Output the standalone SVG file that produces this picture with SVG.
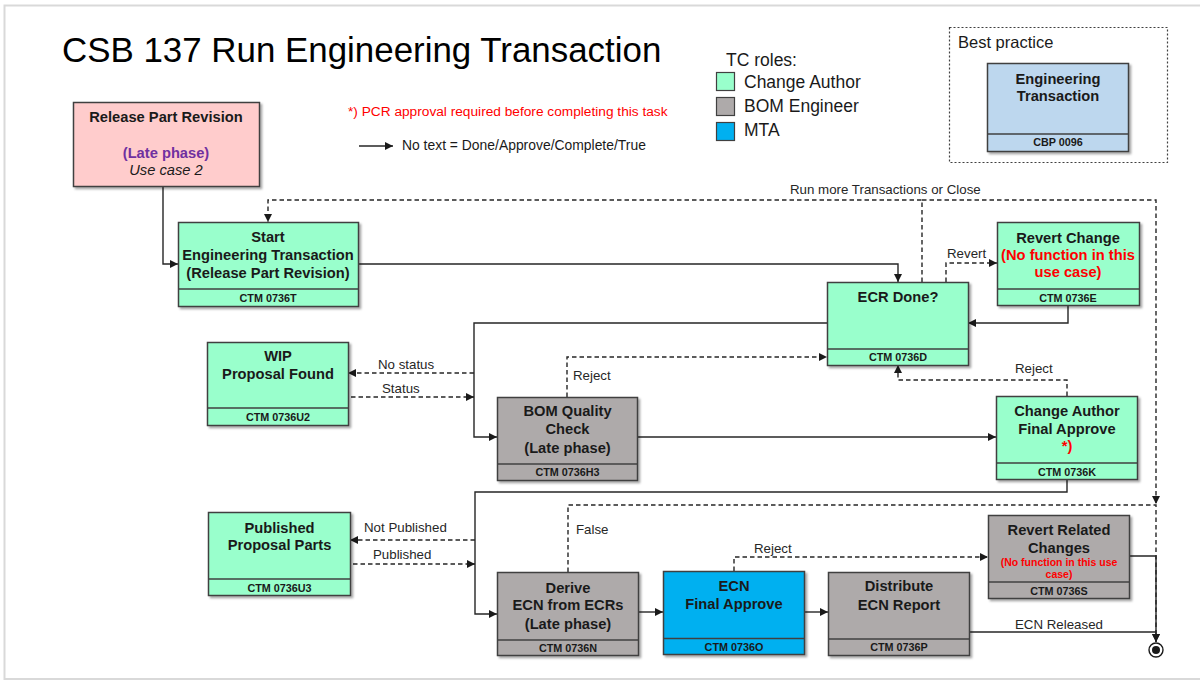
<svg xmlns="http://www.w3.org/2000/svg" width="1200" height="680" viewBox="0 0 1200 680">
<style>
text{font-family:"Liberation Sans",Arial,sans-serif;}
.box{stroke:#404040;stroke-width:1.5;filter:url(#sh);}
.div{stroke:#404040;stroke-width:1.3;fill:none;}
.g{fill:#99ffcc;}
.gr{fill:#aeaaaa;}
.bl{fill:#00b0f0;}
.b{font-weight:bold;font-size:14.7px;fill:#1a1a1a;text-anchor:middle;}
.f{font-weight:bold;font-size:10.8px;fill:#1a1a1a;text-anchor:middle;}
.red{fill:#ff0000;}
.l{font-size:13.3px;fill:#262626;}
.c{fill:none;stroke:#262626;stroke-width:1.4;}
.d{fill:none;stroke:#262626;stroke-width:1.4;stroke-dasharray:4.5 3;}
.leg{font-size:17.5px;fill:#1a1a1a;}
</style>
<defs>
<marker id="ah" viewBox="0 0 10 10" refX="10" refY="5" markerWidth="8" markerHeight="8" markerUnits="userSpaceOnUse" orient="auto">
<path d="M0,0 L10,5 L0,10 z" fill="#1a1a1a"/>
</marker>
<filter id="sh" x="-10%" y="-10%" width="130%" height="130%">
<feDropShadow dx="2" dy="2" stdDeviation="1.2" flood-color="#000" flood-opacity="0.35"/>
</filter>
</defs>
<rect width="1200" height="680" fill="#ffffff"/>
<g id="frame" stroke="#d9d9d9" stroke-width="2" fill="none">
<path d="M4.5,680 V5.5 H1200"/>
<path d="M4.5,679 H1200"/>
</g>
<text x="62" y="62" font-size="34.9" fill="#000">CSB 137 Run Engineering Transaction</text>
<text x="348" y="116" font-size="13.7" fill="#ff0000">*) PCR approval required before completing this task</text>
<path d="M359,146 H393" class="c" marker-end="url(#ah)"/>
<text x="402" y="150" font-size="13.9" fill="#1a1a1a">No text = Done/Approve/Complete/True</text>
<g id="legend">
<text x="726" y="66" class="leg">TC roles:</text>
<rect x="716.5" y="72.5" width="18" height="18" fill="#99ffcc" stroke="#404040" stroke-width="1.2"/>
<text x="744" y="88" class="leg">Change Author</text>
<rect x="716.5" y="97.5" width="18" height="18" fill="#aeaaaa" stroke="#404040" stroke-width="1.2"/>
<text x="744" y="112" class="leg">BOM Engineer</text>
<rect x="716.5" y="122.5" width="18" height="18" fill="#00b0f0" stroke="#404040" stroke-width="1.2"/>
<text x="744" y="136" class="leg">MTA</text>
</g>
<g id="best-practice">
<rect x="949.5" y="27.5" width="218" height="135" fill="none" stroke="#404040" stroke-width="1.2" stroke-dasharray="2 2"/>
<text x="958" y="48" font-size="16.5" fill="#1a1a1a">Best practice</text>
<rect x="987.5" y="63.5" width="141" height="88" fill="#bdd7ee" class="box"/>
<line x1="987.5" y1="134" x2="1128.5" y2="134" class="div"/>
<text x="1058" y="84" class="b">Engineering</text>
<text x="1058" y="101" class="b">Transaction</text>
<text x="1058" y="146" class="f">CBP 0096</text>
</g>
<g id="connectors">
<path d="M163,187 V264 H178" class="c" marker-end="url(#ah)"/>
<path d="M358,264 H898 V282" class="c" marker-end="url(#ah)"/>
<path d="M922,282 V200 H268 V222" class="d" marker-end="url(#ah)"/>
<path d="M922,200 H1156 V504" class="d" marker-end="url(#ah)"/>
<path d="M946,282 V263 H997" class="d" marker-end="url(#ah)"/>
<path d="M1068,305 V323 H968" class="c" marker-end="url(#ah)"/>
<path d="M827,323 H474 V437 H497" class="c" marker-end="url(#ah)"/>
<path d="M474,373 H348" class="d" marker-end="url(#ah)"/>
<path d="M351,397 H474" class="d" marker-end="url(#ah)"/>
<path d="M567,397 V357 H827" class="d" marker-end="url(#ah)"/>
<path d="M638,437 H996" class="c" marker-end="url(#ah)"/>
<path d="M1067,396 V380 H898 V365" class="d" marker-end="url(#ah)"/>
<path d="M1067,479 V492 H475 V614 H497" class="c" marker-end="url(#ah)"/>
<path d="M475,540 H350" class="d" marker-end="url(#ah)"/>
<path d="M353,564 H475" class="d" marker-end="url(#ah)"/>
<path d="M568,572 V505 H1156 V642" class="d" marker-end="url(#ah)"/>
<path d="M639,612 H663" class="c" marker-end="url(#ah)"/>
<path d="M805,612 H828" class="c" marker-end="url(#ah)"/>
<path d="M734,571 V557 H988" class="d" marker-end="url(#ah)"/>
<path d="M1129,556 H1156 V642" class="c" marker-end="url(#ah)"/>
<path d="M969,632 H1156" class="c"/>
<text x="790" y="194" class="l">Run more Transactions or Close</text>
<text x="947" y="258" class="l">Revert</text>
<text x="378" y="369" class="l">No status</text>
<text x="382" y="393" class="l">Status</text>
<text x="573" y="380" class="l">Reject</text>
<text x="1015" y="373" class="l">Reject</text>
<text x="364" y="532" class="l">Not Published</text>
<text x="373" y="559" class="l">Published</text>
<text x="576" y="534" class="l">False</text>
<text x="754" y="553" class="l">Reject</text>
<text x="1015" y="629" class="l">ECN Released</text>
</g>
<g id="end">
<circle cx="1156" cy="650" r="7" fill="#fff" stroke="#1a1a1a" stroke-width="1.4"/>
<circle cx="1156" cy="650" r="4" fill="#1a1a1a"/>
</g>
<g id="release-part-revision">
<rect x="73.5" y="102.5" width="186" height="84" fill="#ffcccc" class="box"/>
<text x="166" y="122" class="b">Release Part Revision</text>
<text x="166" y="158" class="b" style="fill:#7030a0">(Late phase)</text>
<text x="166" y="175" font-size="14.7" font-style="italic" fill="#1a1a1a" text-anchor="middle">Use case 2</text>
</g>
<g id="start">
<rect x="178.5" y="222.5" width="180" height="84" class="box g"/>
<line x1="178.5" y1="289" x2="358.5" y2="289" class="div"/>
<text x="268" y="242" class="b">Start</text>
<text x="268" y="260" class="b">Engineering Transaction</text>
<text x="268" y="278" class="b">(Release Part Revision)</text>
<text x="268" y="301.5" class="f">CTM 0736T</text>
</g>
<g id="ecr-done">
<rect x="827.5" y="282.5" width="141" height="83" class="box g"/>
<line x1="827.5" y1="349" x2="968.5" y2="349" class="div"/>
<text x="898" y="302" class="b">ECR Done?</text>
<text x="898" y="361" class="f">CTM 0736D</text>
</g>
<g id="revert-change">
<rect x="997.5" y="222.5" width="142" height="83" class="box g"/>
<line x1="997.5" y1="289" x2="1139.5" y2="289" class="div"/>
<text x="1068" y="242.5" class="b">Revert Change</text>
<text x="1068" y="260" class="b red">(No function in this</text>
<text x="1068" y="277" class="b red">use case)</text>
<text x="1068" y="301.5" class="f">CTM 0736E</text>
</g>
<g id="wip">
<rect x="207.5" y="342.5" width="141" height="83" class="box g"/>
<line x1="207.5" y1="408" x2="348.5" y2="408" class="div"/>
<text x="278" y="361" class="b">WIP</text>
<text x="278" y="379" class="b">Proposal Found</text>
<text x="278" y="420.5" class="f">CTM 0736U2</text>
</g>
<g id="bom-quality-check">
<rect x="497.5" y="397.5" width="140" height="83" class="box gr"/>
<line x1="497.5" y1="464" x2="637.5" y2="464" class="div"/>
<text x="567.5" y="416" class="b">BOM Quality</text>
<text x="567.5" y="434" class="b">Check</text>
<text x="567.5" y="452.5" class="b">(Late phase)</text>
<text x="567.5" y="476" class="f">CTM 0736H3</text>
</g>
<g id="change-author-final-approve">
<rect x="996.5" y="396.5" width="141" height="83" class="box g"/>
<line x1="996.5" y1="463" x2="1137.5" y2="463" class="div"/>
<text x="1067" y="416" class="b">Change Author</text>
<text x="1067" y="433.5" class="b">Final Approve</text>
<text x="1067" y="451" class="b red">*)</text>
<text x="1067" y="475.5" class="f">CTM 0736K</text>
</g>
<g id="published-proposal-parts">
<rect x="208.5" y="512.5" width="142" height="83" class="box g"/>
<line x1="208.5" y1="579" x2="350.5" y2="579" class="div"/>
<text x="279.5" y="532.5" class="b">Published</text>
<text x="279.5" y="550" class="b">Proposal Parts</text>
<text x="279.5" y="591.5" class="f">CTM 0736U3</text>
</g>
<g id="derive-ecn">
<rect x="497.5" y="572.5" width="141" height="83" class="box gr"/>
<line x1="497.5" y1="640" x2="638.5" y2="640" class="div"/>
<text x="568" y="592.5" class="b">Derive</text>
<text x="568" y="610" class="b">ECN from ECRs</text>
<text x="568" y="628.5" class="b">(Late phase)</text>
<text x="568" y="652" class="f">CTM 0736N</text>
</g>
<g id="ecn-final-approve">
<rect x="663.5" y="571.5" width="141" height="83" class="box bl"/>
<line x1="663.5" y1="638.5" x2="804.5" y2="638.5" class="div"/>
<text x="734" y="591" class="b">ECN</text>
<text x="734" y="609" class="b">Final Approve</text>
<text x="734" y="650.5" class="f">CTM 0736O</text>
</g>
<g id="distribute-ecn-report">
<rect x="828.5" y="572.5" width="141" height="83" class="box gr"/>
<line x1="828.5" y1="639" x2="969.5" y2="639" class="div"/>
<text x="899" y="591" class="b">Distribute</text>
<text x="899" y="609.5" class="b">ECN Report</text>
<text x="899" y="650.5" class="f">CTM 0736P</text>
</g>
<g id="revert-related-changes">
<rect x="988.5" y="515.5" width="141" height="83" class="box gr"/>
<line x1="988.5" y1="582" x2="1129.5" y2="582" class="div"/>
<text x="1059" y="535" class="b">Revert Related</text>
<text x="1059" y="553" class="b">Changes</text>
<text x="1059" y="565.5" font-size="10.5" font-weight="bold" fill="#ff0000" text-anchor="middle">(No function in this use</text>
<text x="1059" y="577.5" font-size="10.5" font-weight="bold" fill="#ff0000" text-anchor="middle">case)</text>
<text x="1059" y="594.5" class="f">CTM 0736S</text>
</g>
</svg>
